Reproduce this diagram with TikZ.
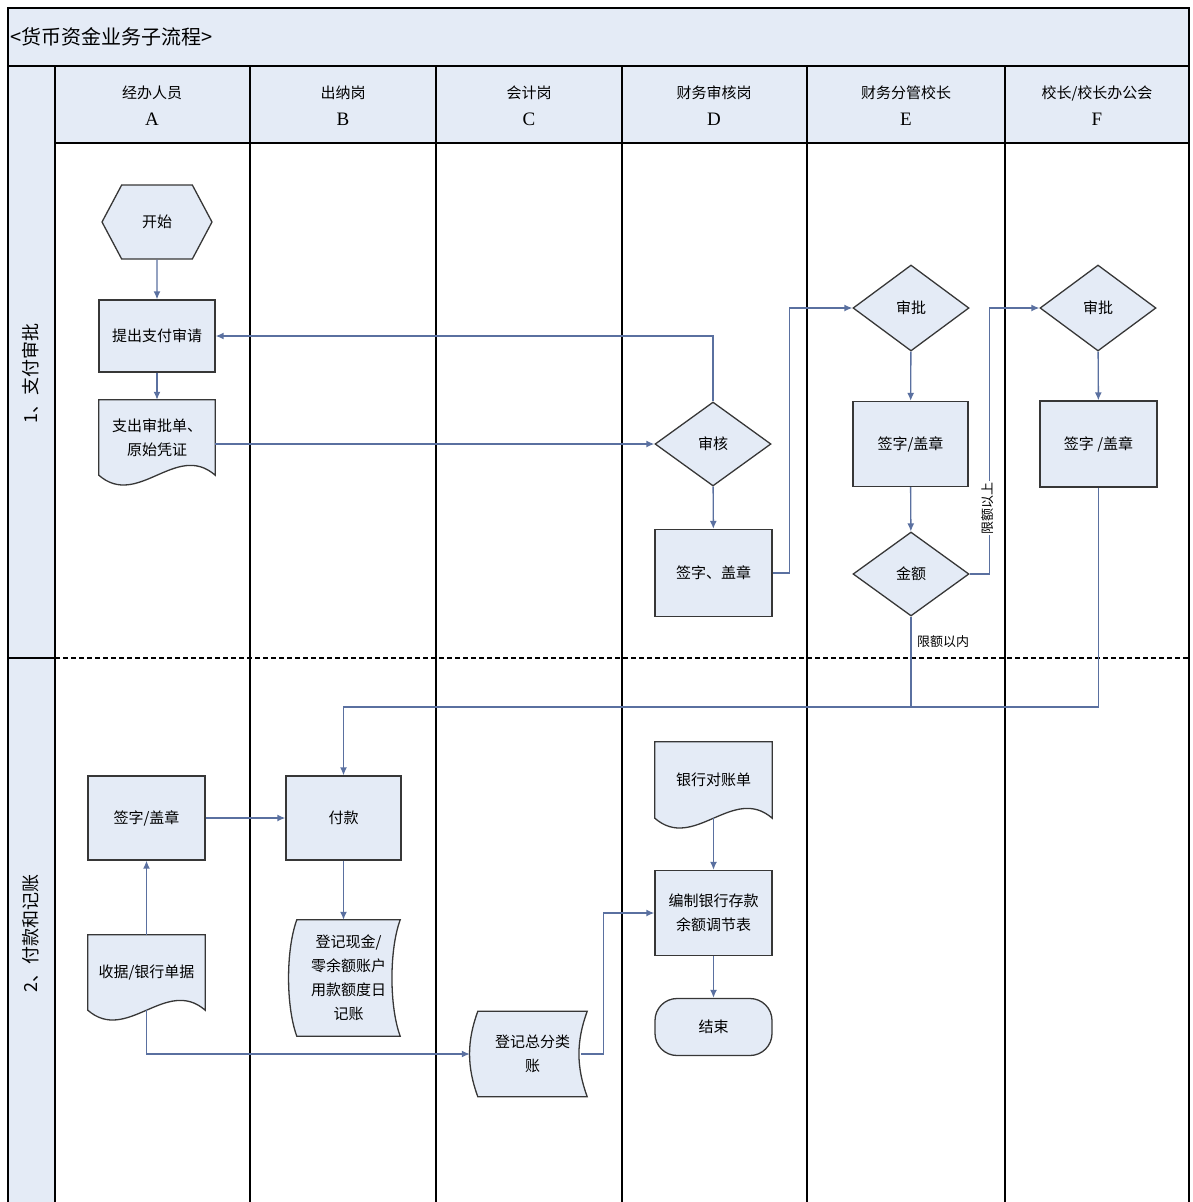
\documentclass[tikz,border=0pt]{standalone}
\usepackage{fontspec}
\setmainfont{Liberation Serif}
\newfontfamily\cjk{Noto Sans CJK SC}
\usetikzlibrary{
    arrows.meta,
    positioning,
    calc,
    shapes.geometric,
    shapes.symbols,
    backgrounds
}
\definecolor{paleBlue}{RGB}{228,235,246}
\definecolor{flowBlue}{RGB}{90,112,160}
\definecolor{rimGray}{RGB}{55,55,55}
\tikzset{
  block/.style  = {draw=rimGray, fill=paleBlue, line width=1.3pt,
                   minimum width=116pt, minimum height=85pt, inner sep=2pt,
                   align=center, font=\cjk\fontsize{15}{24}\selectfont},
  plain/.style  = {minimum width=116pt, minimum height=75pt, inner sep=2pt,
                   align=center, font=\cjk\fontsize{15}{24}\selectfont},
  decide/.style = {block, diamond, minimum width=116pt, minimum height=86pt},
  hexa/.style   = {block, signal, signal to=east and west,
                   signal pointer angle=124, minimum width=110pt,
                   minimum height=74pt},
  ends/.style   = {block, rounded corners=22pt, minimum height=57pt},
  arr/.style    = {-{Latex[length=8pt,width=7pt]}, flowBlue, line width=1.4pt},
  lnk/.style    = {flowBlue, line width=1.4pt},
  lane/.style   = {black, line width=1.5pt},
  hdr/.style    = {align=center, font=\fontsize{19}{27}\selectfont},
  phase/.style  = {rotate=90, font=\cjk\fontsize{18}{18}\selectfont},
  lbl/.style    = {fill=white, inner sep=1pt, font=\cjk\fontsize{13}{13}\selectfont}
}
% outline of a sheet with a wavy bottom
\newcommand\docshape[1]{%
  \begin{scope}[on background layer]
    \draw[draw=rimGray, fill=paleBlue, line width=1.3pt]
      (#1.north west) -- (#1.north east) -- (#1.south east)
      .. controls +(-39,-34) and +(39,34) .. (#1.south west) -- cycle;
  \end{scope}}
% outline of a stored-data box (both sides bent left)
\newcommand\storeshape[1]{%
  \begin{scope}[on background layer]
    \draw[draw=rimGray, fill=paleBlue, line width=1.3pt]
      (#1.north west) -- (#1.north east)
      .. controls +(-11,30) and +(-11,-30) .. (#1.south east)
      -- (#1.south west)
      .. controls +(-11,-30) and +(-11,30) .. (#1.north west) -- cycle;
  \end{scope}}

\begin{document}
\begin{tikzpicture}[x=1pt, y=-1pt]
    \useasboundingbox (0,0) rectangle (1192,1202);

    % frame and lanes
    \fill[paleBlue] (8,8) rectangle (1189,143);
    \fill[paleBlue] (8,143) rectangle (55,1202);
    \draw[lane, line width=2pt] (8,1202) -- (8,8) -- (1189,8) -- (1189,1202);
    \draw[lane] (8,66) -- (1189,66);
    \draw[lane] (55,143) -- (1189,143);
    \draw[lane] (55,66) -- (55,1202);
    \foreach \x in {250,436,622,807,1005}
        \draw[lane] (\x,66) -- (\x,1202);
    \draw[lane] (8,658) -- (55,658);
    \draw[black, line width=2.2pt, dash pattern=on 5pt off 3pt] (55,658) -- (1189,658);

    \node[anchor=west, inner sep=0, font=\cjk\fontsize{20}{20}\selectfont]
        (title) at (10,37) {<货币资金业务子流程>};
    \foreach \cx/\role/\tag in {152/经办人员/A, 343/出纳岗/B, 529/会计岗/C,
                                714/财务审核岗/D, 906/财务分管校长/E,
                                1097/{校长/校长办公会}/F}
        \node[hdr] (hdr\tag) at (\cx,106) {{\cjk\fontsize{15}{15}\selectfont\role}\\\tag};
    \node[phase] (phase1) at (31,373) {1、支付审批};
    \node[phase] (phase2) at (31,933) {2、付款和记账};

    % 1. approval
    \node[hexa] (start) at (157,222) {开始};
    \node[block, minimum height=72pt] (apply) at (157,336) {提出支付审请};
    \node[plain] (form) at (157,437.5) {支出审批单、\\原始凭证};
    \docshape{form}
    \node[decide, minimum height=84pt] (check) at (713,444) {审核};
    \node[block, minimum width=117pt, minimum height=87pt] (signD) at (713.5,573) {签字、盖章};
    \node[decide] (apprE) at (911,308) {审批};
    \node[block, minimum width=115pt] (signE) at (910.5,444) {签字/盖章};
    \node[decide, minimum height=84pt] (amount) at (911,574) {金额};
    \node[decide] (apprF) at (1098,308) {审批};
    \node[block, minimum width=117pt, minimum height=86pt] (signF) at (1098.5,444) {签字 /盖章};

    % 2. payment and bookkeeping
    \node[block, minimum width=117pt, minimum height=84pt] (signA) at (146.5,818) {签字/盖章};
    \node[block, minimum width=115pt, minimum height=84pt] (pay) at (343.5,818) {付款};
    \node[plain, minimum width=117pt] (receipt) at (146.5,972.5) {收据/银行单据};
    \docshape{receipt}
    \node[plain, minimum width=103pt, minimum height=116pt] (cashbook) at (348.5,978)
        {登记现金/\\零余额账户\\用款额度日\\记账};
    \storeshape{cashbook}
    \node[plain, minimum width=109pt, minimum height=85pt] (ledger) at (532.5,1054) {登记总分类\\账};
    \storeshape{ledger}
    \node[plain, minimum width=117pt, minimum height=76pt] (bankstmt) at (713.5,780) {银行对账单};
    \docshape{bankstmt}
    \node[block, minimum width=117pt, minimum height=85pt] (recon) at (713.5,913) {编制银行存款\\余额调节表};
    \node[ends, minimum width=117pt] (finish) at (713.5,1027) {结束};

    % connectors
    \draw[arr] (start) -- (apply);
    \draw[arr] (apply) -- (form);
    \draw[arr] (form.east |- check.west) -- (check.west);
    \draw[arr] (check.north) |- (apply.east);
    \draw[arr] (check) -- (signD);
    \draw[arr] (signD.east) -- ++(17,0) |- (apprE.west);
    \draw[arr] (apprE) -- (signE);
    \draw[arr] (signE) -- (amount);
    \draw[arr] (amount.east) -- ++(20,0) |- (apprF.west);
    \draw[arr] (apprF) -- (signF);
    \coordinate (joinrow) at (0,707);
    \coordinate (merge) at (signF.south |- joinrow);
    \draw[arr] (signF.south) -- (merge) -| (pay.north);
    \draw[lnk] (amount.south) -- (amount.south |- merge);
    \draw[arr] (signA) -- (pay);
    \draw[arr] (receipt.north) -- (signA.south);
    \draw[arr] (pay.south) -- (pay.south |- cashbook.north);
    \draw[arr] (receipt.south) |- ($(ledger.west)+(-8,0)$);
    \draw[arr] ($(ledger.east)+(-6,0)$) -- ++(22,0) |- (recon.west);
    \draw[arr] (bankstmt) -- (recon);
    \draw[arr] (recon) -- (finish);

    \node[lbl, rotate=90] (over) at (988,508) {限额以上};
    \node[lbl] (within) at (943,642) {限额以内};
\end{tikzpicture}
\end{document}
